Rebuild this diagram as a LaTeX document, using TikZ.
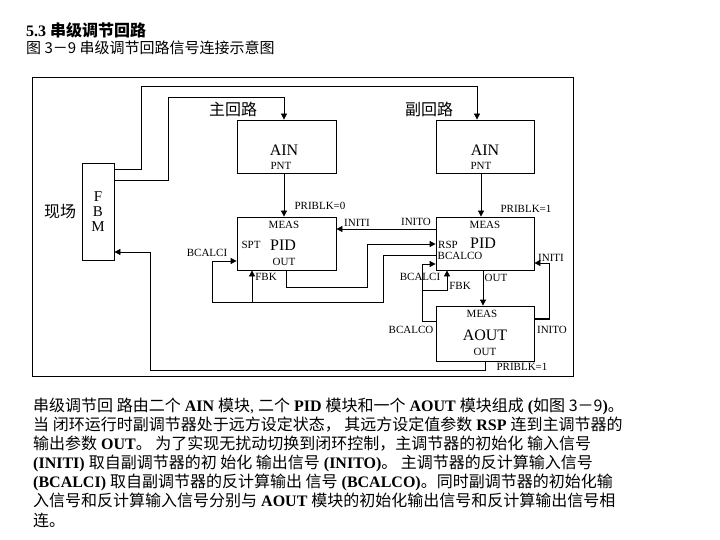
\documentclass[tikz,border=0pt]{standalone}
\usepackage{fontspec}
\setmainfont{Liberation Serif}
\newfontfamily\cjk{Noto Sans CJK SC}
\usetikzlibrary{arrows.meta}
\newcommand\zh[1]{{\cjk #1}}
\begin{document}
\begin{tikzpicture}[x=1pt,y=-1pt,
  box/.style={draw, line width=0.8pt, inner sep=0pt},
  small/.style={font=\fontsize{11}{12}\selectfont, inner sep=0pt},
  big/.style={font=\fontsize{16}{18}\selectfont, inner sep=0pt},
  zhlbl/.style={font=\cjk\fontsize{16}{18}\selectfont, inner sep=0pt},
  para/.style={font=\fontsize{16}{19}\selectfont, inner sep=0pt, anchor=base west},
  wire/.style={line width=0.8pt},
  arr/.style={wire, -{Triangle[length=6pt,width=6pt]}}]
\useasboundingbox (0,0) rectangle (720,540);

% headings
\node[anchor=base west, inner sep=0pt, font=\fontsize{16}{18}\selectfont] (title) at (26,37) {\textbf{5.3} {\cjk\bfseries 串级调节回路}};
\node[anchor=base west, inner sep=0pt, font=\cjk\fontsize{15}{18}\selectfont] (subtitle) at (26,54) {图 3－9 串级调节回路信号连接示意图};

% frame
\draw[wire] (32,77) rectangle (573,376);

% blocks
\node[box, minimum width=32pt, minimum height=97pt] (fbm) at (98,211.5) {};
\node[box, minimum width=99pt, minimum height=53pt] (ain1) at (286.5,146.5) {};
\node[box, minimum width=98pt, minimum height=53pt] (ain2) at (485,146.5) {};
\node[box, minimum width=99pt, minimum height=53pt] (pid1) at (286.5,243.5) {};
\node[box, minimum width=98pt, minimum height=53pt] (pid2) at (485,243.5) {};
\node[box, minimum width=98pt, minimum height=55pt] (aout) at (485,333.5) {};

% block texts
\node[font=\fontsize{15}{17}\selectfont, inner sep=0pt] (fF) at (98,197) {F};
\node[font=\fontsize{15}{17}\selectfont, inner sep=0pt] (fB) at (98,212) {B};
\node[font=\fontsize{15}{17}\selectfont, inner sep=0pt] (fM) at (98,227) {M};
\node[zhlbl] (xc) at (60,212) {现场};
\node[zhlbl] (zhl) at (233,109) {主回路};
\node[zhlbl] (fhl) at (429,109) {副回路};

\node[big] (ain1t) at (284,150) {AIN};
\node[small] (pnt1) at (281,166) {PNT};
\node[big] (ain2t) at (485,150) {AIN};
\node[small] (pnt2) at (481,166) {PNT};

\node[small] (pb0) at (320,206) {PRIBLK=0};
\node[small] (meas1) at (284,225) {MEAS};
\node[small] (spt) at (251,245) {SPT};
\node[big] (pid1t) at (283,245) {PID};
\node[small] (out1) at (284,262) {OUT};
\node[small] (bci1) at (207,253) {BCALCI};
\node[small] (fbk1) at (266,277) {FBK};
\node[small] (initi1) at (357,223) {INITI};

\node[small] (inito2) at (416,222) {INITO};
\node[small] (pb1) at (526,209) {PRIBLK=1};
\node[small] (meas2) at (485,225) {MEAS};
\node[small] (rsp) at (448,245) {RSP};
\node[big] (pid2t) at (483,243) {PID};
\node[small] (bco2) at (460,256) {BCALCO};
\node[small] (initi2) at (551,258) {INITI};
\node[small] (bci2) at (420,277) {BCALCI};
\node[small] (fbk2) at (460,286) {FBK};
\node[small] (out2) at (496,278) {OUT};

\node[small] (meas3) at (482,314) {MEAS};
\node[big] (aoutt) at (485,335) {AOUT};
\node[small] (out3) at (485,352) {OUT};
\node[small] (bco3) at (411,330) {BCALCO};
\node[small] (inito3) at (552,330) {INITO};
\node[small] (pb2) at (522,367) {PRIBLK=1};

% connectors
\coordinate (j1) at (252,302);
\coordinate (j2) at (422,290);
\draw[arr] (fbm.east |- 0,169) -- (141,169) -- (141,86) -- (477,86) -- (ain2.north -| 477,0);
\draw[arr] (fbm.east |- 0,180) -- (168,180) -- (168,97) -- (284,97) -- (ain1.north -| 284,0);
\draw[arr] (ain1.south -| 284,0) -- (pid1.north -| 284,0);
\draw[arr] (ain2.south -| 481,0) -- (pid2.north -| 481,0);
\draw[arr] (pid2.west |- 0,229) -- (pid1.east |- 0,229);
\draw[arr] (pid1.south -| 286,0) -- (286,287) -- (367,287) -- (367,244) -- (pid2.west |- 0,244);
\draw[arr] (pid2.west |- 0,255) -- (383,255) -- (383,302) -- (212,302) -- (212,261) -- (pid1.west |- 0,261);
\draw[arr] (j1) -- (pid1.south -| j1);
\draw[arr] (aout.west |- 0,321) -- (422,321) -- (422,264) -- (pid2.west |- 0,264);
\draw[arr] (j2) -- (447,290) -- (pid2.south -| 447,0);
\draw[arr] (pid2.south -| 483,0) -- (aout.north -| 483,0);
\draw[arr] (aout.east |- 0,319) -- (549,319) -- (549,263) -- (pid2.east |- 0,263);
\draw[line width=1.6pt] (aout.east |- 0,319) -- (549,319);
\draw[arr] (aout.south -| 485,0) -- (485,370) -- (150,370) -- (150,252) -- (fbm.east |- 0,252);

% paragraph
\node[para] (p1) at (33,411) {\zh{串级调节回 路由二个} \textbf{AIN} \zh{模块}, \zh{二个} \textbf{PID} \zh{模块和一个} \textbf{AOUT} \zh{模块组成} \textbf{(}\zh{如图 3－9}\textbf{)}\zh{。}};
\node[para] (p2) at (33,430) {\zh{当 闭环运行时副调节器处于远方设定状态， 其远方设定值参数} \textbf{RSP} \zh{连到主调节器的}};
\node[para] (p3) at (33,449) {\zh{输出参数} \textbf{OUT}\zh{。 为了实现无扰动切换到闭环控制，主调节器的初始化 输入信号}};
\node[para] (p4) at (33,468) {\textbf{(INITI)} \zh{取自副调节器的初 始化 输出信号} \textbf{(INITO)}\zh{。 主调节器的反计算输入信号}};
\node[para] (p5) at (33,487) {\textbf{(BCALCI)} \zh{取自副调节器的反计算输出 信号} \textbf{(BCALCO)}\zh{。同时副调节器的初始化输}};
\node[para] (p6) at (33,506) {\zh{入信号和反计算输入信号分别与} \textbf{AOUT} \zh{模块的初始化输出信号和反计算输出信号相}};
\node[para] (p7) at (33,526) {\zh{连。}};
\end{tikzpicture}
\end{document}
